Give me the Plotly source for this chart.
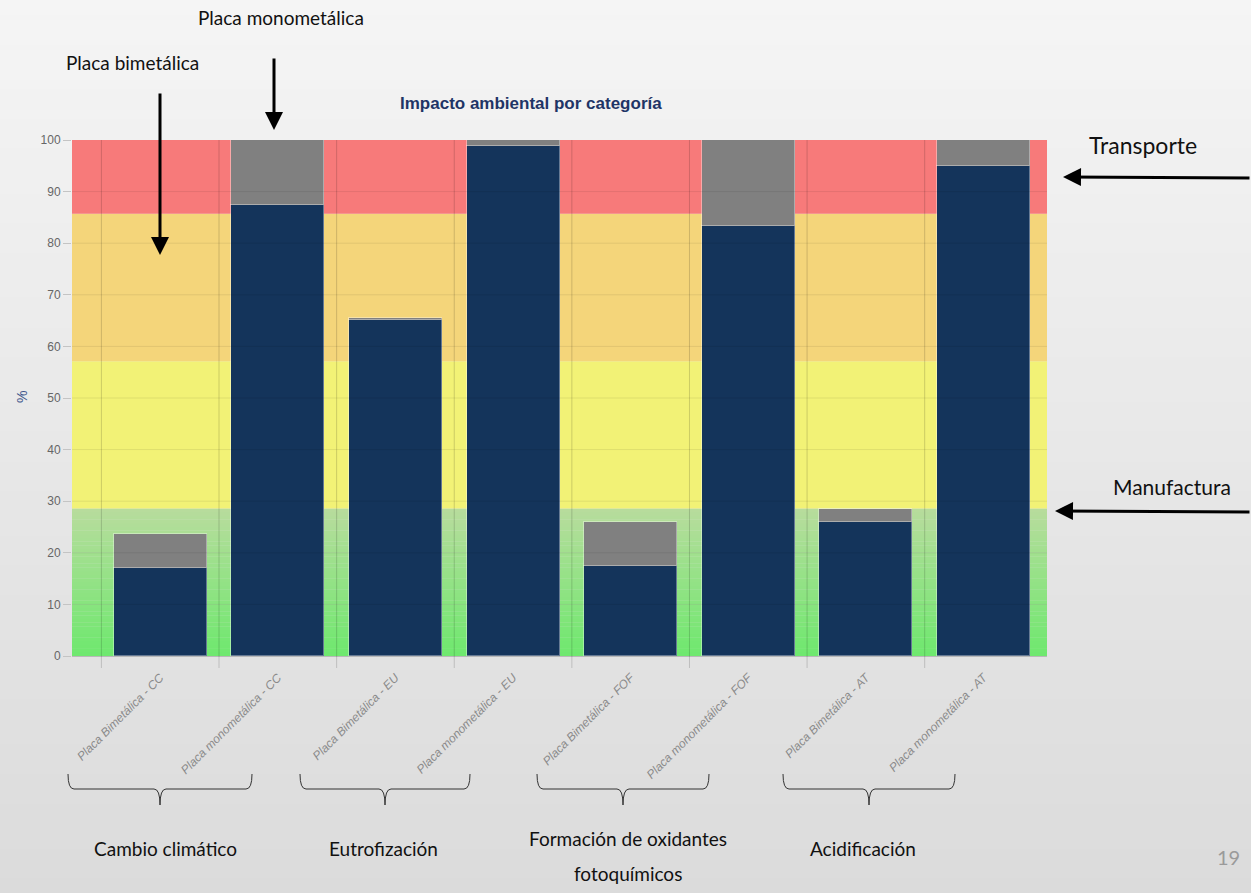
import plotly.graph_objects as go

# ---- data -------------------------------------------------------------
bar_labels = [
    "Placa Bimetálica - CC", "Placa monometálica - CC",
    "Placa Bimetálica - EU", "Placa monometálica - EU",
    "Placa Bimetálica - FOF", "Placa monometálica - FOF",
    "Placa Bimetálica - AT", "Placa monometálica - AT",
]
manufactura = [17.1, 87.4, 65.1, 98.8, 17.4, 83.3, 26.0, 95.0]
transporte = [6.5, 12.6, 0.4, 1.2, 8.6, 16.7, 2.5, 5.0]

band_edges = [0, 28.57, 57.14, 85.71, 100]
y_ticks = [0, 10, 20, 30, 40, 50, 60, 70, 80, 90, 100]

group_names = ["Cambio climático", "Eutrofización",
               "Formación de oxidantes", "Acidificación"]

# ---- layout geometry (pixels of the 1251x893 page) --------------------
W, H = 1251, 893
PL, PR, PT, PB = 72, 1047, 140, 656
X_RANGE = [-0.75, 7.54]


def px(x):
    return (x - PL) / (PR - PL)


def py(y):
    return (PB - y) / (PB - PT)


def mix(c0, c1, t):
    return "rgb(%d,%d,%d)" % tuple(round(a + (b - a) * t) for a, b in zip(c0, c1))


xs = list(range(len(bar_labels)))
fig = go.Figure()

# stacked bars
fig.add_trace(go.Bar(
    x=xs, y=manufactura, name="Manufactura", width=0.79,
    marker=dict(color="#14345b", line=dict(color="rgba(255,255,255,0.35)", width=1)),
    showlegend=False,
))
fig.add_trace(go.Bar(
    x=xs, y=transporte, name="Transporte", width=0.79,
    marker=dict(color="#808080", line=dict(color="rgba(255,255,255,0.35)", width=1)),
    showlegend=False,
))

shapes = []

# page background: soft vertical fade
n_strips = 60
for k in range(n_strips):
    y0 = k * H / n_strips
    y1 = (k + 1) * H / n_strips + 1
    shapes.append(dict(type="rect", xref="paper", yref="paper",
                       x0=px(0), x1=px(W), y0=py(y1), y1=py(y0),
                       fillcolor=mix((245, 245, 245), (219, 219, 219), (k + 0.5) / n_strips),
                       line=dict(width=0), layer="below"))

# rating bands behind the bars; the lowest one fades from bright to pale green
n_green = 40
lo, hi = band_edges[0], band_edges[1]
for k in range(n_green):
    a = lo + (hi - lo) * k / n_green
    b = lo + (hi - lo) * (k + 1) / n_green
    shapes.append(dict(type="rect", xref="paper", yref="y", x0=0, x1=1,
                       y0=a, y1=b + (0.05 if k < n_green - 1 else 0),
                       fillcolor=mix((110, 232, 110), (184, 220, 157), (k + 0.5) / n_green),
                       line=dict(width=0), layer="below"))
for i, col in enumerate(["#f2f276", "#f4d57a", "#f77a7a"], start=1):
    shapes.append(dict(type="rect", xref="paper", yref="y", x0=0, x1=1,
                       y0=band_edges[i], y1=band_edges[i + 1],
                       fillcolor=col, line=dict(width=0), layer="below"))

# horizontal grid lines (faint, visible through everything)
for t in y_ticks[1:-1]:
    shapes.append(dict(type="line", xref="paper", yref="y", x0=0, x1=1,
                       y0=t, y1=t, line=dict(color="rgba(0,0,0,0.08)", width=1),
                       layer="above"))
# vertical grid lines + tick marks at category boundaries
for b in [i - 0.5 for i in range(len(bar_labels))]:
    shapes.append(dict(type="line", xref="x", yref="paper", x0=b, x1=b,
                       y0=-12 / (PB - PT), y1=1,
                       line=dict(color="rgba(0,0,0,0.16)", width=1),
                       layer="above"))

# curly braces under each impact category
braces = [(68, 252, 160), (300, 470, 385), (537, 709, 623), (783, 955, 869)]
yt, ym, yb = 774, 789, 805
for x0, x1, xc in braces:
    pts = (
        f"M {px(x0)},{py(yt)} Q {px(x0)},{py(ym)} {px(x0 + 6)},{py(ym)} "
        f"L {px(xc - 6)},{py(ym)} Q {px(xc)},{py(ym)} {px(xc)},{py(yb)} "
        f"Q {px(xc)},{py(ym)} {px(xc + 6)},{py(ym)} "
        f"L {px(x1 - 6)},{py(ym)} Q {px(x1)},{py(ym)} {px(x1)},{py(yt)}"
    )
    shapes.append(dict(type="path", xref="paper", yref="paper", path=pts,
                       line=dict(color="#333333", width=1)))

ann = []
HUMAN = "Lato, Open Sans, sans-serif"


def label(text, x, y, size=20, color="#111111", family=HUMAN, **extra):
    d = dict(text=text, xref="paper", yref="paper", x=px(x), y=py(y),
             showarrow=False, xanchor="center", yanchor="middle",
             font=dict(family=family, size=size, color=color))
    d.update(extra)
    ann.append(d)


def arrow(hx, hy, tx, ty):
    ann.append(dict(text="", xref="paper", yref="paper", x=px(hx), y=py(hy),
                    ax=tx - hx, ay=ty - hy, showarrow=True, arrowhead=2,
                    arrowsize=1.2, arrowwidth=3, arrowcolor="#000000"))


# chart title and axis title
label("Impacto ambiental por categoría", 531, 103, size=17, color="#1f3566",
      family="Liberation Sans Narrow, Liberation Sans, Arial")
ann[-1]["font"]["weight"] = "bold"
label("%", 22, 397, size=14, color="#40568c", family="Liberation Sans, Arial",
      textangle=-90)

# callouts
label("Placa monometálica", 281, 17, size=19)
arrow(274, 130, 274, 57)
label("Placa bimetálica", 132, 63, size=19)
arrow(160, 255, 160, 92)
label("Transporte", 1143, 145, size=23)
arrow(1063, 177, 1251, 178)
label("Manufactura", 1172, 486, size=21)
arrow(1055, 511, 1251, 512)

# category names under the braces
label(group_names[0], 165, 848, size=19)
label(group_names[1], 383, 848, size=19)
label(group_names[2], 628, 838, size=19)
label("fotoquímicos", 628, 874, size=19)
label(group_names[3], 863, 848, size=19)

# slide number
label("19", 1228, 857, size=20, color="#9a9a9a")

fig.update_layout(
    width=W, height=H,
    margin=dict(l=PL, r=W - PR, t=PT, b=H - PB, pad=0),
    paper_bgcolor="#ececec", plot_bgcolor="rgba(0,0,0,0)",
    barmode="stack", bargap=0,
    shapes=shapes, annotations=ann,
    font=dict(family="Liberation Sans, Arial", color="#666666"),
    xaxis=dict(
        range=X_RANGE, tickvals=xs, ticktext=bar_labels, tickangle=-45,
        ticks="outside", ticklen=9, tickcolor="rgba(0,0,0,0)",
        showgrid=False, zeroline=False,
        showline=True, linecolor="#b8b8b8", linewidth=1,
        tickfont=dict(family="Liberation Sans, Arial", size=12,
                      color="#8a8a8a", style="italic"),
    ),
    yaxis=dict(
        range=[0, 100], tickvals=y_ticks, showgrid=False, zeroline=False,
        ticks="outside", ticklen=8, tickcolor="#c4c4c4",
        tickfont=dict(family="Liberation Sans, Arial", size=12, color="#666666"),
        showline=False,
    ),
)

fig.write_html("out.html")
